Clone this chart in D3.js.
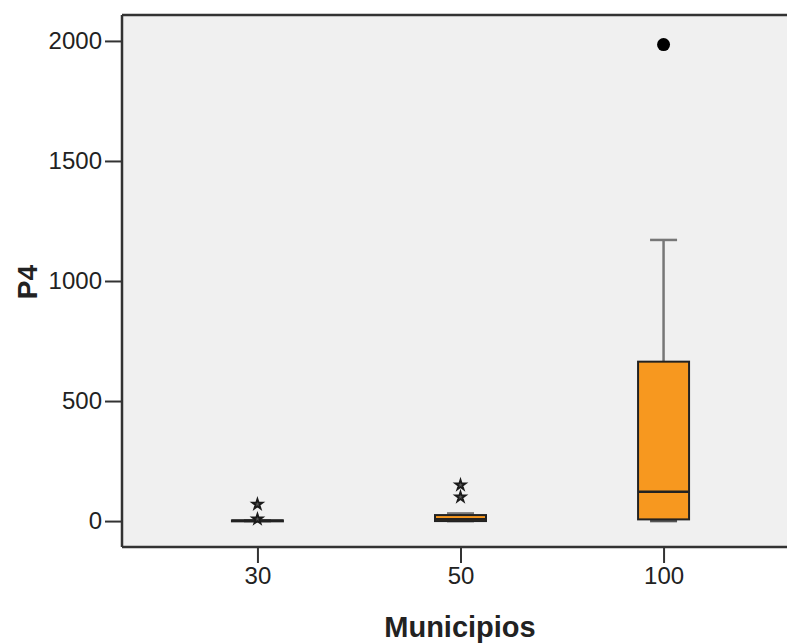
<!DOCTYPE html>
<html>
<head>
<meta charset="utf-8">
<script src="https://cdn.jsdelivr.net/npm/d3@7"></script>
<style>
  body { margin: 0; background: #fff; }
  svg { display: block; font-family: "Liberation Sans", Arial, sans-serif; }
</style>
</head>
<body>
<svg id="chart" width="787" height="643"></svg>
<script>
// categories on the x axis
const categories = ["30", "50", "100"];
// box statistics per category (P4)
const whiskerLow = [0, 0, 0];
const q1 = [0, 0, 7];
const median = [1, 8, 122];
const q3 = [3, 25, 664];
const whiskerHigh = [3, 32, 1171];
// outliers (circles) and extremes (stars)
const outliers = [[], [], [1985]];
const extremes = [[8, 70], [100, 150], []];
const yTicks = [0, 500, 1000, 1500, 2000];

const margin = {top: 15, left: 122, right: 799, bottom: 547};
const svg = d3.select("#chart");

const x = d3.scalePoint()
  .domain(categories)
  .range([margin.left, margin.right])
  .padding(0.667);

const y = d3.scaleLinear()
  .domain([-108, 2108])
  .range([margin.bottom, margin.top]);

// plot background
svg.append("rect")
  .attr("x", margin.left)
  .attr("y", margin.top)
  .attr("width", margin.right - margin.left)
  .attr("height", margin.bottom - margin.top)
  .attr("fill", "#f0f0f0");

const boxW = 51, capW = 27;
const data = categories.map((c, i) => ({
  cat: c, lo: whiskerLow[i], q1: q1[i], med: median[i], q3: q3[i], hi: whiskerHigh[i],
  out: outliers[i], ext: extremes[i]
}));

const g = svg.selectAll("g.box")
  .data(data)
  .join("g")
  .attr("class", "box")
  .attr("transform", d => `translate(${x(d.cat)},0)`);

// whiskers
g.append("line")
  .attr("y1", d => y(d.q3)).attr("y2", d => y(d.hi))
  .attr("stroke", "#777").attr("stroke-width", 2.5);
g.append("line")
  .attr("x1", -capW / 2).attr("x2", capW / 2)
  .attr("y1", d => y(d.hi)).attr("y2", d => y(d.hi))
  .attr("stroke", "#777").attr("stroke-width", 2.5);
g.append("line")
  .attr("x1", -capW / 2).attr("x2", capW / 2)
  .attr("y1", d => y(d.lo)).attr("y2", d => y(d.lo))
  .attr("stroke", "#555").attr("stroke-width", 2.5);

// box
g.append("rect")
  .attr("x", -boxW / 2)
  .attr("width", boxW)
  .attr("y", d => y(d.q3))
  .attr("height", d => Math.max(1, y(d.q1) - y(d.q3)))
  .attr("fill", "#f7981f")
  .attr("stroke", "#222")
  .attr("stroke-width", 2);

// median
g.append("line")
  .attr("x1", -boxW / 2).attr("x2", boxW / 2)
  .attr("y1", d => y(d.med)).attr("y2", d => y(d.med))
  .attr("stroke", "#222").attr("stroke-width", 2.5);

// outliers
g.selectAll("circle")
  .data(d => d.out)
  .join("circle")
  .attr("r", 6.5)
  .attr("cy", v => y(v))
  .attr("fill", "#000");

// extremes
const star = d3.symbol().type(d3.symbolStar).size(32);
g.selectAll("path.ext")
  .data(d => d.ext)
  .join("path")
  .attr("class", "ext")
  .attr("d", star)
  .attr("transform", v => `translate(0,${y(v)})`)
  .attr("fill", "#555")
  .attr("stroke", "#1a1a1a")
  .attr("stroke-width", 1.8);

// frame top line
svg.append("line")
  .attr("x1", margin.left).attr("x2", margin.right)
  .attr("y1", margin.top).attr("y2", margin.top)
  .attr("stroke", "#333").attr("stroke-width", 2.5);

// axes
const yAxis = svg.append("g")
  .attr("transform", `translate(${margin.left},0)`)
  .call(d3.axisLeft(y).tickValues(yTicks).tickFormat(d3.format("d"))
    .tickSize(17).tickPadding(3).tickSizeOuter(0));
const xAxis = svg.append("g")
  .attr("transform", `translate(0,${margin.bottom})`)
  .call(d3.axisBottom(x).tickSize(16).tickPadding(4).tickSizeOuter(0));

[yAxis, xAxis].forEach(a => {
  a.select(".domain").attr("stroke", "#333").attr("stroke-width", 2.5);
  a.selectAll(".tick line").attr("stroke", "#333").attr("stroke-width", 2);
  a.selectAll(".tick text")
    .attr("fill", "#222")
    .style("font-size", "24px")
    .style("font-family", "'Liberation Sans', Arial, sans-serif");
});
// extend domain lines to the full frame
yAxis.select(".domain").attr("d", `M0,${margin.top}V${margin.bottom}`);
xAxis.select(".domain").attr("d", `M${margin.left},0H${margin.right}`);

// axis titles
svg.append("text")
  .attr("x", 460)
  .attr("y", 637)
  .attr("text-anchor", "middle")
  .attr("font-weight", "bold")
  .attr("font-size", 29)
  .attr("fill", "#222")
  .text("Municipios");

svg.append("text")
  .attr("transform", "translate(37,282) rotate(-90)")
  .attr("text-anchor", "middle")
  .attr("font-weight", "bold")
  .attr("font-size", 28)
  .attr("fill", "#222")
  .text("P4");
</script>
</body>
</html>
